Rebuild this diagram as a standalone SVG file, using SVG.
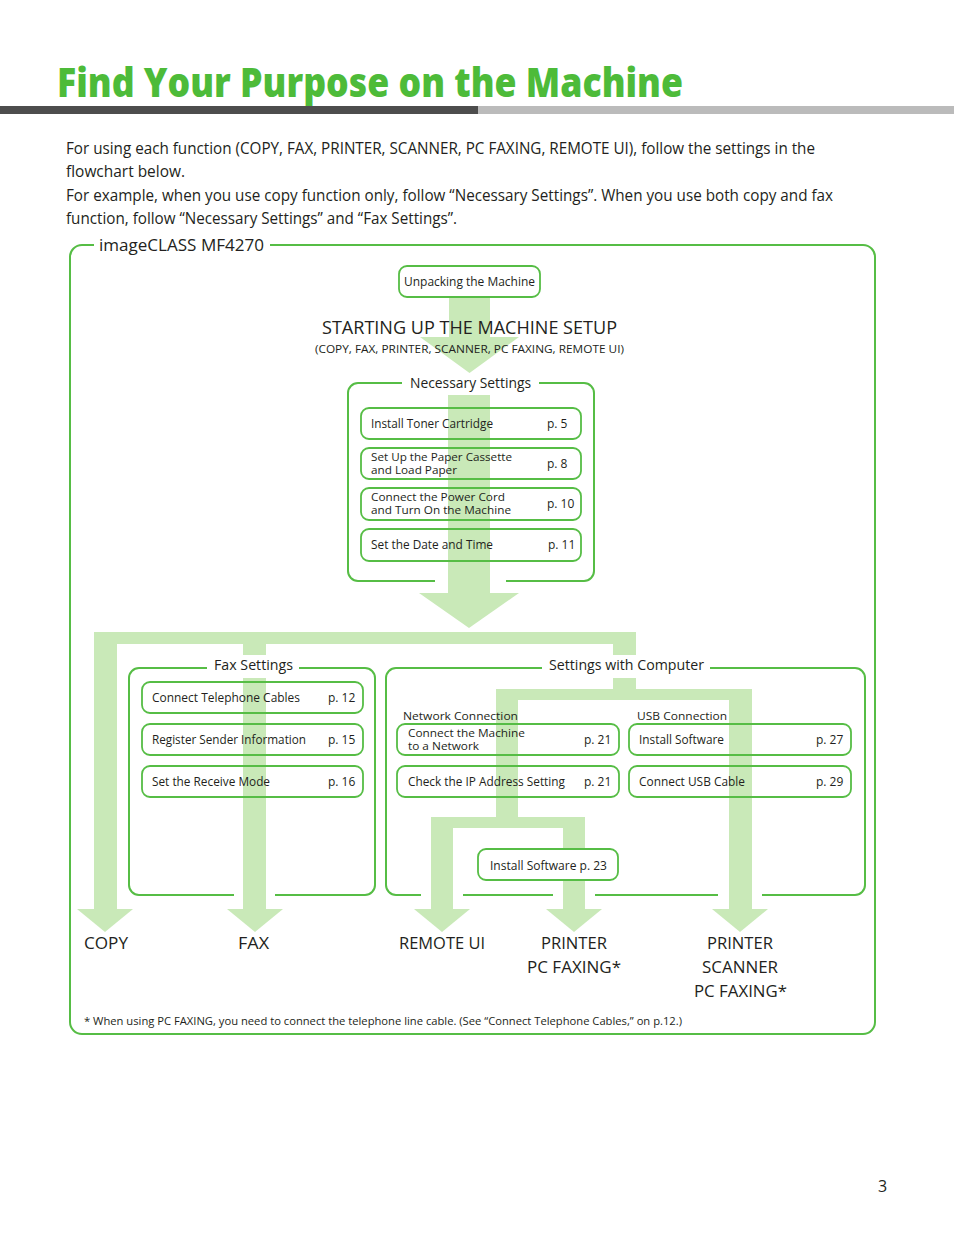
<svg xmlns="http://www.w3.org/2000/svg" width="954" height="1235" viewBox="0 0 954 1235">
<style>
text{font-family:"Open Sans","Liberation Sans",sans-serif;fill:#231f20}
.t12{font-size:12px}
.t11{font-size:11px}
.t14{font-size:14.5px}
.t16{font-size:16px}
.t17{font-size:17px}
.frame{fill:none;stroke:#56bd45;stroke-width:2}
.box{fill:none;stroke:#56bd45;stroke-width:1.8}
.sh{fill:#c9e9b8}
</style>
<rect width="954" height="1235" fill="#fff"/>
<g id="header">
<text x="57" y="97" font-size="40" font-weight="800" style="fill:#4dbb39" textLength="626" lengthAdjust="spacingAndGlyphs">Find Your Purpose on the Machine</text>
<rect x="0" y="106" width="478" height="8" fill="#4d4d4d"/>
<rect x="478" y="106" width="476" height="8" fill="#bbbbbb"/>
</g>
<g id="intro" class="t16">
<text x="66" y="154" textLength="749" lengthAdjust="spacingAndGlyphs">For using each function (COPY, FAX, PRINTER, SCANNER, PC FAXING, REMOTE UI), follow the settings in the</text>
<text x="66" y="177" textLength="119" lengthAdjust="spacingAndGlyphs">flowchart below.</text>
<text x="66" y="201" textLength="767" lengthAdjust="spacingAndGlyphs">For example, when you use copy function only, follow “Necessary Settings”. When you use both copy and fax</text>
<text x="66" y="224" textLength="391" lengthAdjust="spacingAndGlyphs">function, follow “Necessary Settings” and “Fax Settings”.</text>
</g>
<g id="connectors">
<rect class="sh" x="449" y="297" width="41" height="41"/>
<polygon class="sh" points="420,337 519,337 469.5,373"/>
<rect class="sh" x="448" y="395" width="42" height="199"/>
<polygon class="sh" points="419,593 519,593 469,628"/>
<rect class="sh" x="94" y="632" width="542" height="12"/>
<rect class="sh" x="94" y="632" width="23" height="278"/>
<polygon class="sh" points="77,909 133,909 105,932"/>
<rect class="sh" x="243" y="632" width="23" height="278"/>
<polygon class="sh" points="227,909 283,909 255,932"/>
<rect class="sh" x="613" y="632" width="23" height="68"/>
<rect class="sh" x="496" y="689" width="256" height="11"/>
<rect class="sh" x="496" y="689" width="22" height="139"/>
<rect class="sh" x="431" y="817" width="154" height="11"/>
<rect class="sh" x="431" y="817" width="22" height="93"/>
<polygon class="sh" points="414,909 470,909 442,932"/>
<rect class="sh" x="563" y="817" width="22" height="93"/>
<polygon class="sh" points="546,909 602,909 574,932"/>
<rect class="sh" x="729" y="689" width="23" height="221"/>
<polygon class="sh" points="712,909 768,909 740,932"/>
</g>
<g id="outer-frame">
<path class="frame" d="M94 245 H82 A12 12 0 0 0 70 257 V1022 A12 12 0 0 0 82 1034 H863 A12 12 0 0 0 875 1022 V257 A12 12 0 0 0 863 245 H270"/>
<text x="99" y="251" class="t17" textLength="165" lengthAdjust="spacingAndGlyphs">imageCLASS MF4270</text>
</g>
<g id="unpacking">
<rect class="box" x="399" y="266" width="141" height="31" rx="8"/>
<text x="404" y="286" class="t12" textLength="131" lengthAdjust="spacingAndGlyphs">Unpacking the Machine</text>
</g>
<g id="starting-up">
<text x="322" y="334" font-size="18.5" textLength="295" lengthAdjust="spacingAndGlyphs">STARTING UP THE MACHINE SETUP</text>
<text x="315" y="353" font-size="11.5" textLength="309" lengthAdjust="spacingAndGlyphs">(COPY, FAX, PRINTER, SCANNER, PC FAXING, REMOTE UI)</text>
</g>
<g id="necessary-settings">
<path class="frame" d="M402 383 H358 A10 10 0 0 0 348 393 V571 A10 10 0 0 0 358 581 H435 M506 581 H584 A10 10 0 0 0 594 571 V393 A10 10 0 0 0 584 383 H539"/>
<text x="410" y="388" class="t14" textLength="121" lengthAdjust="spacingAndGlyphs">Necessary Settings</text>
</g>
<g id="install-toner" class="t12">
<rect class="box" x="361" y="408" width="220" height="31" rx="8"/>
<text x="371" y="428" textLength="122" lengthAdjust="spacingAndGlyphs">Install Toner Cartridge</text>
<text x="547" y="428">p. 5</text>
</g>
<g id="paper-cassette" class="t12">
<rect class="box" x="361" y="448" width="220" height="31" rx="8"/>
<text x="371" y="461" class="t11" textLength="141" lengthAdjust="spacingAndGlyphs">Set Up the Paper Cassette</text>
<text x="371" y="474" class="t11" textLength="86" lengthAdjust="spacingAndGlyphs">and Load Paper</text>
<text x="547" y="468">p. 8</text>
</g>
<g id="power-cord" class="t12">
<rect class="box" x="361" y="488" width="220" height="32" rx="8"/>
<text x="371" y="501" class="t11" textLength="134" lengthAdjust="spacingAndGlyphs">Connect the Power Cord</text>
<text x="371" y="514" class="t11" textLength="140" lengthAdjust="spacingAndGlyphs">and Turn On the Machine</text>
<text x="547" y="508">p. 10</text>
</g>
<g id="date-time" class="t12">
<rect class="box" x="361" y="529" width="220" height="32" rx="8"/>
<text x="371" y="549" textLength="122" lengthAdjust="spacingAndGlyphs">Set the Date and Time</text>
<text x="548" y="549">p. 11</text>
</g>
<g id="fax-settings">
<path class="frame" d="M207 668 H139 A10 10 0 0 0 129 678 V885 A10 10 0 0 0 139 895 H234 M275 895 H365 A10 10 0 0 0 375 885 V678 A10 10 0 0 0 365 668 H299"/>
<rect x="207" y="655" width="92" height="23" fill="#fff"/>
<text x="214" y="670" class="t14" textLength="79" lengthAdjust="spacingAndGlyphs">Fax Settings</text>
</g>
<g id="telephone-cables" class="t12">
<rect class="box" x="142" y="682" width="221" height="31" rx="8"/>
<text x="152" y="702" textLength="148" lengthAdjust="spacingAndGlyphs">Connect Telephone Cables</text>
<text x="328" y="702">p. 12</text>
</g>
<g id="sender-info" class="t12">
<rect class="box" x="142" y="724" width="221" height="31" rx="8"/>
<text x="152" y="744" textLength="154" lengthAdjust="spacingAndGlyphs">Register Sender Information</text>
<text x="328" y="744">p. 15</text>
</g>
<g id="receive-mode" class="t12">
<rect class="box" x="142" y="766" width="221" height="31" rx="8"/>
<text x="152" y="786" textLength="118" lengthAdjust="spacingAndGlyphs">Set the Receive Mode</text>
<text x="328" y="786">p. 16</text>
</g>
<g id="computer-settings">
<path class="frame" d="M542 668 H396 A10 10 0 0 0 386 678 V885 A10 10 0 0 0 396 895 H421 M463 895 H553 M595 895 H718 M762 895 H855 A10 10 0 0 0 865 885 V678 A10 10 0 0 0 855 668 H710"/>
<rect x="542" y="655" width="168" height="23" fill="#fff"/>
<text x="549" y="670" class="t14" textLength="155" lengthAdjust="spacingAndGlyphs">Settings with Computer</text>
<text x="403" y="720" class="t11" textLength="115" lengthAdjust="spacingAndGlyphs">Network Connection</text>
<text x="637" y="720" class="t11" textLength="90" lengthAdjust="spacingAndGlyphs">USB Connection</text>
</g>
<g id="connect-network" class="t12">
<rect class="box" x="397" y="724" width="222" height="31" rx="8"/>
<text x="408" y="737" class="t11" textLength="117" lengthAdjust="spacingAndGlyphs">Connect the Machine</text>
<text x="408" y="750" class="t11" textLength="71" lengthAdjust="spacingAndGlyphs">to a Network</text>
<text x="584" y="744">p. 21</text>
</g>
<g id="ip-address" class="t12">
<rect class="box" x="397" y="766" width="222" height="31" rx="8"/>
<text x="408" y="786" textLength="157" lengthAdjust="spacingAndGlyphs">Check the IP Address Setting</text>
<text x="584" y="786">p. 21</text>
</g>
<g id="usb-install-software" class="t12">
<rect class="box" x="629" y="724" width="222" height="31" rx="8"/>
<text x="639" y="744" textLength="85" lengthAdjust="spacingAndGlyphs">Install Software</text>
<text x="816" y="744">p. 27</text>
</g>
<g id="usb-cable" class="t12">
<rect class="box" x="629" y="766" width="222" height="31" rx="8"/>
<text x="639" y="786" textLength="106" lengthAdjust="spacingAndGlyphs">Connect USB Cable</text>
<text x="816" y="786">p. 29</text>
</g>
<g id="net-install-software" class="t12">
<rect x="478" y="849" width="140" height="31" rx="8" fill="#fff" stroke="#56bd45" stroke-width="1.8"/>
<text x="490" y="870" textLength="117" lengthAdjust="spacingAndGlyphs">Install Software  p. 23</text>
</g>
<g id="results" class="t17">
<text x="84" y="949" textLength="44" lengthAdjust="spacingAndGlyphs">COPY</text>
<text x="238" y="949" textLength="31" lengthAdjust="spacingAndGlyphs">FAX</text>
<text x="399" y="949" textLength="86" lengthAdjust="spacingAndGlyphs">REMOTE UI</text>
<text x="541" y="949" textLength="66" lengthAdjust="spacingAndGlyphs">PRINTER</text>
<text x="527" y="973" textLength="94" lengthAdjust="spacingAndGlyphs">PC FAXING*</text>
<text x="707" y="949" textLength="66" lengthAdjust="spacingAndGlyphs">PRINTER</text>
<text x="702" y="973" textLength="76" lengthAdjust="spacingAndGlyphs">SCANNER</text>
<text x="694" y="997" textLength="93" lengthAdjust="spacingAndGlyphs">PC FAXING*</text>
</g>
<g id="footnote">
<text x="84" y="1025" font-size="11" textLength="598" lengthAdjust="spacingAndGlyphs">* When using PC FAXING, you need to connect the telephone line cable. (See “Connect Telephone Cables,” on p.12.)</text>
<text x="878" y="1192" class="t16">3</text>
</g>
</svg>
